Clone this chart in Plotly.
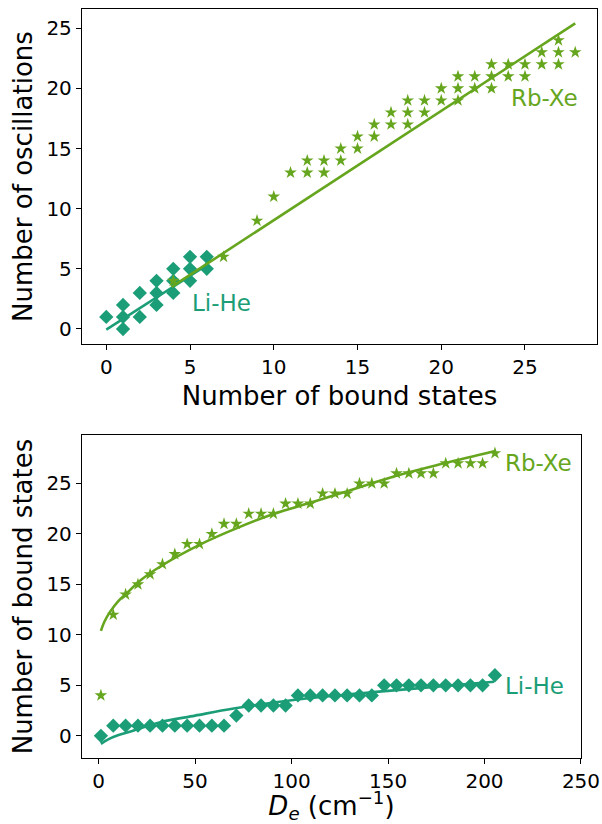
import plotly.graph_objects as go

# ---------------- data ----------------
# top panel: number of bound states vs number of oscillations
li_top_bound = [0, 1, 1, 1, 2, 2, 3, 3, 3, 4, 4, 4, 5, 5, 5, 6, 6]
li_top_osc   = [1, 2, 1, 0, 3, 1, 4, 3, 2, 5, 4, 3, 6, 5, 4, 6, 5]
rb_top_bound = [4, 7, 9, 10, 11, 12, 12, 13, 13, 14, 14, 15, 15, 16, 16, 17, 17,
                18, 18, 18, 19, 19, 20, 20, 21, 21, 21, 22, 22, 23, 23, 23,
                24, 24, 25, 25, 26, 26, 27, 27, 27, 28]
rb_top_osc   = [4, 6, 9, 11, 13, 14, 13, 14, 13, 15, 14, 16, 15, 17, 16, 18, 17,
                19, 18, 17, 19, 18, 20, 19, 21, 20, 19, 21, 20, 22, 21, 20,
                22, 21, 22, 21, 23, 22, 24, 23, 22, 23]
li_top_fit_x = [0.0, 6.0]
li_top_fit_y = [-0.05, 5.3]
rb_top_fit_x = [3.9, 28.0]
rb_top_fit_y = [3.5, 25.4]

# bottom panel: well depth De (cm^-1) vs number of bound states
de_values = [1.2, 7.6, 14.0, 20.4, 26.7, 33.1, 39.5, 45.9, 52.3, 58.7, 65.0,
             71.4, 77.8, 84.2, 90.6, 96.9, 103.3, 109.7, 116.1, 122.5, 128.8,
             135.2, 141.6, 148.0, 154.4, 160.8, 167.1, 173.5, 179.9, 186.3,
             192.7, 199.0, 205.4]
li_bound = [0, 1, 1, 1, 1, 1, 1, 1, 1, 1, 1, 2, 3, 3, 3, 3, 4, 4, 4, 4, 4, 4, 4,
            5, 5, 5, 5, 5, 5, 5, 5, 5, 6]
rb_bound = [4, 12, 14, 15, 16, 17, 18, 19, 19, 20, 21, 21, 22, 22, 22, 23, 23,
            23, 24, 24, 24, 25, 25, 25, 26, 26, 26, 26, 27, 27, 27, 27, 28]
li_fit_x = [1.2, 5, 10, 17, 32, 50, 70, 101, 150, 205]
li_fit_y = [-0.8, -0.35, 0.05, 0.45, 1.35, 2.0, 2.7, 3.55, 4.45, 5.35]
rb_fit_x = [1.2, 3, 6, 10, 15, 21, 33, 52, 72, 91, 108, 125, 153, 179, 205]
rb_fit_y = [10.4, 11.3, 12.3, 13.3, 14.2, 15.3, 16.9, 18.9, 20.6, 22.0, 23.0,
            24.0, 25.7, 27.0, 28.2]

LI = "#1b9e77"
RB = "#66a61e"
FONT = "DejaVu Sans"

fig = go.Figure()

# top panel
fig.add_trace(go.Scatter(x=li_top_fit_x, y=li_top_fit_y, mode="lines",
                         line=dict(color=LI, width=2.6), xaxis="x", yaxis="y"))
fig.add_trace(go.Scatter(x=li_top_bound, y=li_top_osc, mode="markers",
                         marker=dict(symbol="diamond", size=11, color=LI),
                         xaxis="x", yaxis="y"))
fig.add_trace(go.Scatter(x=rb_top_bound, y=rb_top_osc, mode="markers",
                         marker=dict(symbol="star", size=9.5, color=RB),
                         xaxis="x", yaxis="y"))
fig.add_trace(go.Scatter(x=rb_top_fit_x, y=rb_top_fit_y, mode="lines",
                         line=dict(color=RB, width=2.6), xaxis="x", yaxis="y"))

# bottom panel
fig.add_trace(go.Scatter(x=de_values, y=li_bound, mode="markers",
                         marker=dict(symbol="diamond", size=11, color=LI),
                         xaxis="x2", yaxis="y2"))
fig.add_trace(go.Scatter(x=li_fit_x, y=li_fit_y, mode="lines", line_shape="spline",
                         line=dict(color=LI, width=2.6), xaxis="x2", yaxis="y2"))
fig.add_trace(go.Scatter(x=de_values, y=rb_bound, mode="markers",
                         marker=dict(symbol="star", size=9.5, color=RB),
                         xaxis="x2", yaxis="y2"))
fig.add_trace(go.Scatter(x=rb_fit_x, y=rb_fit_y, mode="lines", line_shape="spline",
                         line=dict(color=RB, width=2.6), xaxis="x2", yaxis="y2"))

axis_common = dict(showline=True, linecolor="black", linewidth=1.3, mirror=True,
                   ticks="outside", ticklen=5, tickwidth=1.2, tickcolor="black",
                   showgrid=False, zeroline=False, automargin=False,
                   tickfont=dict(family=FONT, size=20, color="black"))

fig.update_layout(
    width=602, height=824,
    margin=dict(l=82, r=5, t=9, b=66),
    paper_bgcolor="white", plot_bgcolor="white",
    showlegend=False,
    font=dict(family=FONT, color="black"),
    xaxis=dict(domain=[0, 1], anchor="y", range=[-1.45, 29.3], tickvals=[0, 5, 10, 15, 20, 25],
               title=dict(text="Number of bound states", font=dict(family=FONT, size=26), standoff=8),
               **axis_common),
    yaxis=dict(domain=[0.5527, 1], anchor="x", range=[-1.25, 26.6], tickvals=[0, 5, 10, 15, 20, 25],
               title=dict(text="Number of oscillations", font=dict(family=FONT, size=26), standoff=6),
               **axis_common),
    xaxis2=dict(domain=[0, 0.9689], anchor="y2", range=[-8.6, 250], tickvals=[0, 50, 100, 150, 200, 250],
                title=dict(text="<i>D</i><sub><i>e</i></sub> (cm<sup>\u22121</sup>)",
                           font=dict(family=FONT, size=26), standoff=6),
                **axis_common),
    yaxis2=dict(domain=[0, 0.4312], anchor="x2", range=[-2.2, 29.8], tickvals=[0, 5, 10, 15, 20, 25],
                title=dict(text="Number of bound states", font=dict(family=FONT, size=26), standoff=6),
                **axis_common),
)

ann = [
    dict(x=5.07, y=2.16, xref="x", yref="y", text="Li-He", color=LI),
    dict(x=24.1, y=19.2, xref="x", yref="y", text="Rb-Xe", color=RB),
    dict(x=210.3, y=27.0, xref="x2", yref="y2", text="Rb-Xe", color=RB),
    dict(x=210.3, y=4.95, xref="x2", yref="y2", text="Li-He", color=LI),
]
for a in ann:
    fig.add_annotation(x=a["x"], y=a["y"], xref=a["xref"], yref=a["yref"], text=a["text"],
                       showarrow=False, xanchor="left", yanchor="middle", borderpad=0,
                       font=dict(family=FONT, size=23, color=a["color"]))

fig.write_html("out.html")
